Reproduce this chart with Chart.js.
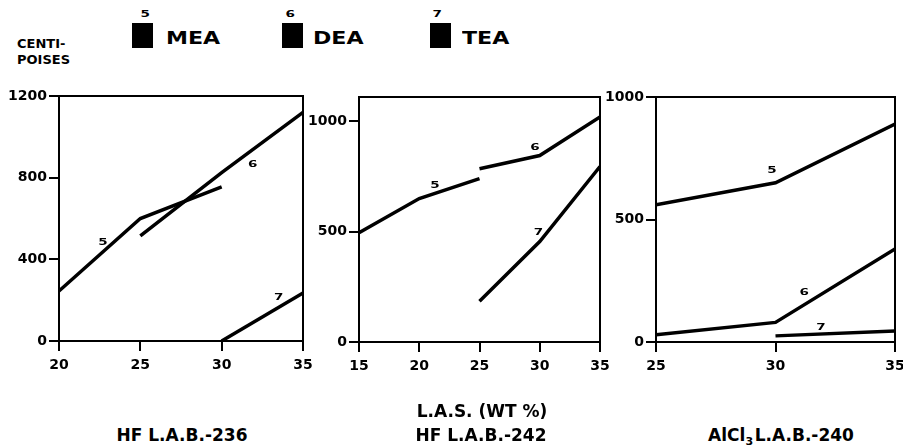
<!DOCTYPE html>
<html>
<head>
<meta charset="utf-8">
<script src="https://cdn.jsdelivr.net/npm/chart.js@4.4.1/dist/chart.umd.min.js"></script>
<style>
    body { margin: 0; background: #fff; width: 903px; height: 448px; overflow: hidden; position: relative; font-family: 'DejaVu Sans', sans-serif; font-weight: bold; color: #000; }
    .box { position: absolute; }
    .txt { position: absolute; white-space: nowrap; }
    .sq { position: absolute; width: 21px; height: 25px; background: #000; }
    .wide { transform-origin: left center; transform: scaleX(1.3); font-size: 17px; }
    .num { font-size: 9px; transform: scaleX(1.5); transform-origin: center; }
    .title { font-size: 17px; transform: translateX(-50%); }
    sub { font-size: 11px; vertical-align: -4px; line-height: 0; }
</style>
</head>
<body>

<div class="txt num" style="left:142px; top:9px;">5</div>
<div class="sq" style="left:132px; top:23px;"></div>
<div class="txt wide" style="left:166px; top:28px;">MEA</div>

<div class="txt num" style="left:287px; top:9px;">6</div>
<div class="sq" style="left:282px; top:23px;"></div>
<div class="txt wide" style="left:313px; top:28px;">DEA</div>

<div class="txt num" style="left:434px; top:9px;">7</div>
<div class="sq" style="left:430px; top:23px;"></div>
<div class="txt wide" style="left:462px; top:28px;">TEA</div>

<div class="txt" style="left:17px; top:36px; font-size:13px; line-height:16px;">CENTI-<br>POISES</div>

<div class="box" style="left:0px; top:80px; width:313px; height:301px;"><canvas id="c1"></canvas></div>
<div class="box" style="left:300px; top:80px; width:310px; height:302px;"><canvas id="c2"></canvas></div>
<div class="box" style="left:597px; top:80px; width:306px; height:302px;"><canvas id="c3"></canvas></div>

<div class="txt title" style="left:482px; top:401px;">L.A.S. (WT %)</div>
<div class="txt title" style="left:182px; top:425px;">HF L.A.B.-236</div>
<div class="txt title" style="left:481px; top:425px;">HF L.A.B.-242</div>
<div class="txt title" style="left:781px; top:425px;">AlCl<sub>3</sub>&#8202;L.A.B.-240</div>

<script>
// HF L.A.B.-236
const hf236MeaX = [20, 25, 30];
const hf236Mea = [245, 600, 755];
const hf236DeaX = [25, 30, 35];
const hf236Dea = [515, 825, 1120];
const hf236TeaX = [30, 35];
const hf236Tea = [0, 235];

// HF L.A.B.-242
const hf242MeaX = [15, 20, 25];
const hf242Mea = [495, 650, 740];
const hf242DeaX = [25, 30, 35];
const hf242Dea = [785, 845, 1020];
const hf242TeaX = [25, 30, 35];
const hf242Tea = [185, 455, 795];

// AlCl3 L.A.B.-240
const alclMeaX = [25, 30, 35];
const alclMea = [560, 650, 890];
const alclDeaX = [25, 30, 35];
const alclDea = [30, 80, 380];
const alclTeaX = [30, 35];
const alclTea = [25, 45];

// tick labels
const hf236XTicks = [20, 25, 30, 35];
const hf236YTicks = [0, 400, 800, 1200];
const hf242XTicks = [15, 20, 25, 30, 35];
const hf242YTicks = [0, 500, 1000];
const alclXTicks = [25, 30, 35];
const alclYTicks = [0, 500, 1000];

// curve numbers written next to the lines (x, y, tag)
const hf236Tags = [[22.7, 480, '5'], [31.9, 862, '6'], [33.5, 210, '7']];
const hf242Tags = [[21.3, 709, '5'], [29.6, 882, '6'], [29.9, 495, '7']];
const alclTags = [[29.85, 698, '5'], [31.2, 200, '6'], [31.9, 57, '7']];

const pts = (xs, ys) => xs.map((x, i) => ({ x: x, y: ys[i] }));

const lineSet = (xs, ys) => ({
    data: pts(xs, ys),
    borderColor: '#000',
    borderWidth: 3.5,
    pointRadius: 0,
    tension: 0,
    borderCapStyle: 'butt'
});

const framePlugin = {
    id: 'frame',
    afterDraw(chart, args, opts) {
        const { ctx, chartArea: a, scales } = chart;
        ctx.save();
        ctx.strokeStyle = '#000';
        ctx.lineWidth = 2;
        ctx.strokeRect(a.left, a.top, a.right - a.left, a.bottom - a.top);
        ctx.fillStyle = '#000';
        ctx.font = 'bold 9px "DejaVu Sans"';
        ctx.textAlign = 'center';
        ctx.textBaseline = 'middle';
        (opts.tags || []).forEach(t => {
            const px = scales.x.getPixelForValue(t[0]);
            const py = scales.y.getPixelForValue(t[1]);
            ctx.save();
            ctx.translate(px, py);
            ctx.scale(1.5, 1);
            ctx.fillText(t[2], 0, 0);
            ctx.restore();
        });
        ctx.restore();
    }
};

const tickFont = { family: 'DejaVu Sans', size: 14, weight: 'bold' };
const useTicks = list => scale => { scale.ticks = list.map(v => ({ value: v })); };

function makePanel(id, sets, xMin, xMax, xTicks, yMax, yTicks, tags, padTop, padRight) {
    new Chart(document.getElementById(id), {
        type: 'line',
        data: { datasets: sets },
        options: {
            responsive: true,
            maintainAspectRatio: false,
            animation: false,
            layout: { padding: { top: padTop, right: padRight, left: 0, bottom: 0 } },
            plugins: {
                legend: { display: false },
                tooltip: { enabled: false },
                frame: { tags: tags }
            },
            scales: {
                x: {
                    type: 'linear',
                    min: xMin,
                    max: xMax,
                    afterBuildTicks: useTicks(xTicks),
                    afterFit: s => { s.height = 40; s.paddingLeft = 0; s.paddingRight = 0; },
                    border: { display: false },
                    grid: { drawOnChartArea: false, tickLength: 10, color: '#000', lineWidth: 2 },
                    ticks: { color: '#000', font: tickFont, padding: 6, maxRotation: 0, callback: v => String(v) }
                },
                y: {
                    min: 0,
                    max: yMax,
                    afterBuildTicks: useTicks(yTicks),
                    afterFit: s => { s.width = 59; },
                    border: { display: false },
                    grid: { drawOnChartArea: false, tickLength: 10, color: '#000', lineWidth: 2 },
                    ticks: { color: '#000', font: tickFont, padding: 2, callback: v => String(v) }
                }
            }
        },
        plugins: [framePlugin]
    });
}

makePanel('c1', [
    lineSet(hf236MeaX, hf236Mea),
    lineSet(hf236DeaX, hf236Dea),
    lineSet(hf236TeaX, hf236Tea)
], 20, 35, hf236XTicks, 1200, hf236YTicks, hf236Tags, 16, 10);

makePanel('c2', [
    lineSet(hf242MeaX, hf242Mea),
    lineSet(hf242DeaX, hf242Dea),
    lineSet(hf242TeaX, hf242Tea)
], 15, 35, hf242XTicks, 1110, hf242YTicks, hf242Tags, 17, 10);

makePanel('c3', [
    lineSet(alclMeaX, alclMea),
    lineSet(alclDeaX, alclDea),
    lineSet(alclTeaX, alclTea)
], 25, 35, alclXTicks, 1000, alclYTicks, alclTags, 17, 8);
</script>
</body>
</html>
